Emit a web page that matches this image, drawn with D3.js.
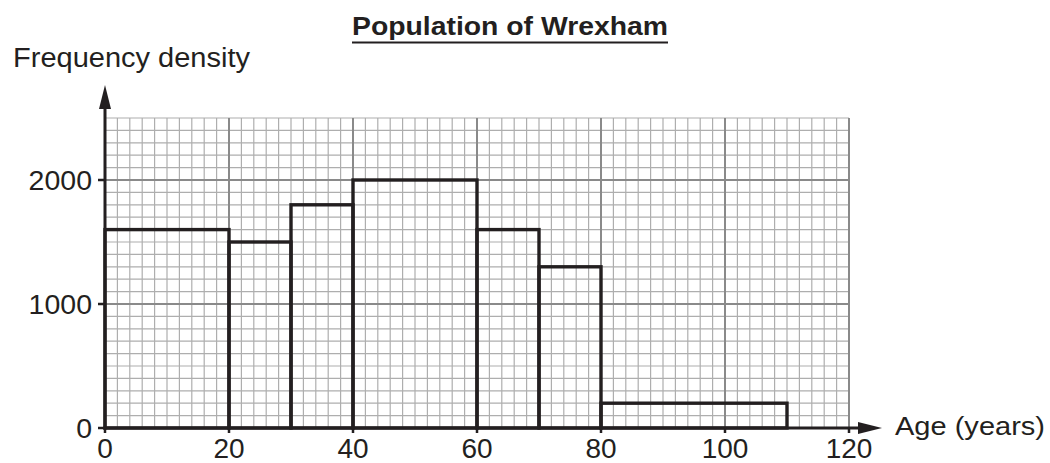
<!DOCTYPE html>
<html>
<head>
<meta charset="utf-8">
<title>Population of Wrexham</title>
<script src="https://cdnjs.cloudflare.com/ajax/libs/d3/7.8.5/d3.min.js"></script>
<style>
  body { margin: 0; background: #fff; }
  text { font-family: "Liberation Sans", Arial, sans-serif; fill: #231f20; }
</style>
</head>
<body>
<script>
// histogram data: class boundaries (age) and frequency density
var lower = [0, 20, 30, 40, 60, 70, 80];
var upper = [20, 30, 40, 60, 70, 80, 110];
var density = [1600, 1500, 1800, 2000, 1600, 1300, 200];
var xTicks = [0, 20, 40, 60, 80, 100, 120];
var yTicks = [0, 1000, 2000];

var width = 1050, height = 463;
var ink = "#231f20";

var svg = d3.select("body").append("svg")
    .attr("width", width)
    .attr("height", height);

var x = d3.scaleLinear().domain([0, 120]).range([105, 849]);
var y = d3.scaleLinear().domain([0, 2500]).range([428, 118]);

// graph paper
var grid = svg.append("g");
grid.selectAll("line.vminor")
    .data(d3.range(0, 121, 2))
    .enter().append("line")
    .attr("x1", d => x(d)).attr("x2", d => x(d))
    .attr("y1", y(0)).attr("y2", y(2500))
    .attr("stroke", "#aeaeae").attr("stroke-width", 1.2);
grid.selectAll("line.hminor")
    .data(d3.range(0, 2501, 100))
    .enter().append("line")
    .attr("y1", d => y(d)).attr("y2", d => y(d))
    .attr("x1", x(0)).attr("x2", x(120))
    .attr("stroke", "#aeaeae").attr("stroke-width", 1.2);
grid.selectAll("line.vmajor")
    .data(d3.range(20, 121, 20))
    .enter().append("line")
    .attr("x1", d => x(d)).attr("x2", d => x(d))
    .attr("y1", y(0)).attr("y2", y(2500))
    .attr("stroke", "#8a8a8a").attr("stroke-width", 2);
grid.selectAll("line.hmajor")
    .data([1000, 2000])
    .enter().append("line")
    .attr("y1", d => y(d)).attr("y2", d => y(d))
    .attr("x1", x(0)).attr("x2", x(120))
    .attr("stroke", "#8a8a8a").attr("stroke-width", 2);

// bars (outlines only)
svg.selectAll("rect.bar")
    .data(density)
    .enter().append("rect")
    .attr("class", "bar")
    .attr("x", (d, i) => x(lower[i]))
    .attr("width", (d, i) => x(upper[i]) - x(lower[i]))
    .attr("y", d => y(d))
    .attr("height", d => y(0) - y(d))
    .attr("fill", "none")
    .attr("stroke", ink)
    .attr("stroke-width", 3.4);

// axes with arrows
svg.append("line")
    .attr("x1", x(0)).attr("x2", x(0))
    .attr("y1", y(0) + 1.5).attr("y2", 100)
    .attr("stroke", ink).attr("stroke-width", 3);
svg.append("path")
    .attr("d", "M" + x(0) + ",85 L" + (x(0) - 6) + ",109 L" + (x(0) + 6) + ",109 Z")
    .attr("fill", ink);
svg.append("line")
    .attr("x1", x(0) - 1.5).attr("x2", 866)
    .attr("y1", y(0)).attr("y2", y(0))
    .attr("stroke", ink).attr("stroke-width", 3);
svg.append("path")
    .attr("d", "M882," + y(0) + " L858," + (y(0) - 6) + " L858," + (y(0) + 6) + " Z")
    .attr("fill", ink);

// ticks
svg.selectAll("line.ytick")
    .data(yTicks)
    .enter().append("line")
    .attr("x1", x(0) - 7).attr("x2", x(0))
    .attr("y1", d => y(d)).attr("y2", d => y(d))
    .attr("stroke", ink).attr("stroke-width", 2.5);
svg.selectAll("line.xtick")
    .data(xTicks)
    .enter().append("line")
    .attr("x1", d => x(d)).attr("x2", d => x(d))
    .attr("y1", y(0)).attr("y2", y(0) + 5)
    .attr("stroke", ink).attr("stroke-width", 2.5);

// tick labels
svg.selectAll("text.ylab")
    .data(yTicks)
    .enter().append("text")
    .attr("x", 92)
    .attr("y", d => y(d) + 10)
    .attr("text-anchor", "end")
    .style("font-size", "28.5px")
    .text(d => d);
svg.selectAll("text.xlab")
    .data(xTicks)
    .enter().append("text")
    .attr("x", d => x(d))
    .attr("y", 458)
    .attr("text-anchor", "middle")
    .style("font-size", "28px")
    .text(d => d);

// titles
svg.append("text")
    .attr("x", 352).attr("y", 35)
    .attr("textLength", 316).attr("lengthAdjust", "spacingAndGlyphs")
    .style("font-size", "25px")
    .style("font-weight", "bold")
    .text("Population of Wrexham");
svg.append("line")
    .attr("x1", 352).attr("x2", 668)
    .attr("y1", 42.5).attr("y2", 42.5)
    .attr("stroke", ink).attr("stroke-width", 2);
svg.append("text")
    .attr("x", 13).attr("y", 67)
    .attr("textLength", 237).attr("lengthAdjust", "spacingAndGlyphs")
    .style("font-size", "27px")
    .text("Frequency density");
svg.append("text")
    .attr("x", 895).attr("y", 435)
    .attr("textLength", 150).attr("lengthAdjust", "spacingAndGlyphs")
    .style("font-size", "26.5px")
    .text("Age (years)");
</script>
</body>
</html>
